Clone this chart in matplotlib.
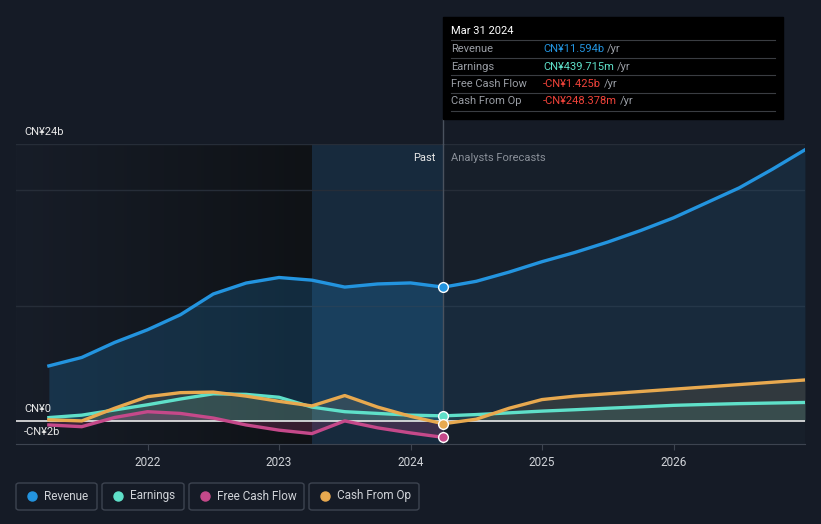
import numpy as np
import matplotlib
matplotlib.use("Agg")
import matplotlib.pyplot as plt
from matplotlib.patches import Rectangle, FancyBboxPatch

plt.rcParams['font.family'] = ['Roboto', 'DejaVu Sans']

# данные (млрд CN¥), годы в десятичном виде
past_x = [2021.25, 2021.5, 2021.75, 2022.0, 2022.25, 2022.5, 2022.75,
          2023.0, 2023.25, 2023.5, 2023.75, 2024.0, 2024.25]
fc_x = [2024.25, 2024.5, 2024.75, 2025.0, 2025.25, 2025.5, 2025.75,
        2026.0, 2026.25, 2026.5, 2026.75, 2027.0]

revenue_past = [4.77, 5.5, 6.8, 7.9, 9.2, 11.0, 11.95, 12.43, 12.2, 11.6, 11.87, 11.96, 11.594]
revenue_fc = [11.594, 12.1, 12.9, 13.8, 14.6, 15.5, 16.5, 17.6, 18.9, 20.2, 21.8, 23.5]

earnings_past = [0.29, 0.5, 0.95, 1.4, 1.9, 2.35, 2.3, 2.05, 1.2, 0.8, 0.65, 0.5, 0.44]
earnings_fc = [0.44, 0.55, 0.7, 0.85, 0.97, 1.1, 1.22, 1.35, 1.43, 1.5, 1.55, 1.6]

fcf_past = [-0.35, -0.5, 0.3, 0.8, 0.65, 0.25, -0.35, -0.8, -1.1, 0.0, -0.6, -1.04, -1.425]

cfo_past = [0.1, 0.0, 1.1, 2.1, 2.45, 2.5, 2.15, 1.7, 1.3, 2.2, 1.2, 0.4, -0.248]
cfo_fc = [-0.248, 0.15, 1.1, 1.85, 2.15, 2.35, 2.55, 2.75, 2.95, 3.15, 3.35, 3.55]

year_ticks = [2022, 2023, 2024, 2025, 2026]

BG = "#151b26"
C_REV = "#2394df"
C_EARN = "#5fe0c9"
C_FCF = "#c5498a"
C_CFO = "#e8a94f"

W, H = 821, 524
fig = plt.figure(figsize=(W / 100, H / 100), dpi=100, facecolor=BG)
ax = fig.add_axes([16 / W, (H - 444) / H, 789 / W, 300 / H])
ax.set_facecolor("#171f2a")
ax.set_xlim(2021.0, 2027.0)
ax.set_ylim(-2, 24)

# тёмная область слева (градиент) и подсвеченная область "Past"
grad = np.linspace(0, 1, 256).reshape(1, -1)
ax.imshow(grad, extent=[2021.0, 2023.25, -2, 24], aspect="auto", zorder=0,
          cmap=matplotlib.colors.LinearSegmentedColormap.from_list("g", ["#171d28", "#0f1216"]))
ax.add_patch(Rectangle((2023.25, -2), 1.0, 26, color="#172a3d", zorder=0.5, lw=0))

for g in [24, 20, 10]:
    ax.axhline(g, color="#262d38", lw=1, zorder=1)
ax.axhline(0, color="#e8e8e8", lw=1.2, zorder=4)

# заливки
rev_x = past_x + fc_x[1:]
rev_y = revenue_past + revenue_fc[1:]
ax.fill_between(past_x, 0, revenue_past, color=C_REV, alpha=0.2, lw=0, zorder=2)
ax.fill_between(fc_x, 0, revenue_fc, color=C_REV, alpha=0.1, lw=0, zorder=2)
earn_y = earnings_past + earnings_fc[1:]
cfo_y = cfo_past + cfo_fc[1:]
ax.fill_between(rev_x, 0, earn_y, color=C_EARN, alpha=0.12, lw=0, zorder=2.1)
ax.fill_between(rev_x, 0, cfo_y, color=C_CFO, alpha=0.12, lw=0, zorder=2.1)
ax.fill_between(past_x, 0, fcf_past, color=C_FCF, alpha=0.22, lw=0, zorder=2.1)

# линии
lw = 2.4
ax.plot(rev_x, rev_y, color=C_REV, lw=lw, zorder=5, solid_joinstyle="round")
ax.plot(rev_x, earn_y, color=C_EARN, lw=lw, zorder=5, solid_joinstyle="round")
ax.plot(rev_x, cfo_y, color=C_CFO, lw=lw, zorder=5, solid_joinstyle="round")
ax.plot(past_x, fcf_past, color=C_FCF, lw=lw, zorder=5, solid_joinstyle="round")

# маркеры на 31 марта 2024
for val, c in [(revenue_past[-1], C_REV), (earnings_past[-1], C_EARN),
               (cfo_past[-1], C_CFO), (fcf_past[-1], C_FCF)]:
    ax.plot([2024.25], [val], "o", ms=7, mfc=c, mec="white", mew=1, zorder=7)

ax.axvline(2024.25, color="#4a525e", lw=1, zorder=3)

for s in ["top", "right", "left"]:
    ax.spines[s].set_visible(False)
ax.spines["bottom"].set_color("#3d4450")
ax.set_yticks([])
ax.set_xticks(year_ticks)
ax.set_xticklabels([str(y) for y in year_ticks])
ax.tick_params(axis="x", colors="#3d4450", labelcolor="#d0d3d8", labelsize=8.5, length=4, pad=5)

ax.text(2024.19, 22.8, "Past", color="#e8e8e8", fontsize=8, ha="right", va="center", zorder=8)
ax.text(2024.31, 22.8, "Analysts Forecasts", color="#8a9099", fontsize=8, ha="left", va="center", zorder=8)

# подписи оси Y
fig.text(24 / W, 1 - 132 / H, "CN¥24b", color="#e8e8e8", fontsize=8, va="center")
fig.text(24 / W, 1 - 409 / H, "CN¥0", color="#e8e8e8", fontsize=8, va="center")
fig.text(24 / W, 1 - 432 / H, "-CN¥2b", color="#e8e8e8", fontsize=8, va="center")

# линия от подсказки
fig.add_artist(plt.Line2D([443 / W, 443 / W], [1 - 119 / H, 1 - 144 / H], color="#4a525e", lw=1))

# подсказка
fig.add_artist(Rectangle((443 / W, 1 - 119 / H), 340 / W, 102 / H, color="#000000", zorder=10))
fig.text(451 / W, 1 - 31 / H, "Mar 31 2024", color="white", fontsize=8, va="center", zorder=11)
rows = [("Revenue", "CN¥11.594b", C_REV), ("Earnings", "CN¥439.715m", C_EARN),
        ("Free Cash Flow", "-CN¥1.425b", "#f0433a"), ("Cash From Op", "-CN¥248.378m", "#f0433a")]
for i, (name, val, c) in enumerate(rows):
    yy = 49 + i * 17.5
    fig.add_artist(plt.Line2D([451 / W, 775 / W], [1 - (yy - 9) / H] * 2, color="#3a3d42", lw=0.8, zorder=11))
    fig.text(451 / W, 1 - yy / H, name, color="#9a9ea5", fontsize=8, va="center", zorder=11)
    t = fig.text(543 / W, 1 - yy / H, val, color=c, fontsize=8, va="center", zorder=11)
    fig.canvas.draw()
    bb = t.get_window_extent()
    fig.text((bb.x1 + 3) / W, 1 - yy / H, "/yr", color="#9a9ea5", fontsize=8, va="center", zorder=11)
fig.add_artist(plt.Line2D([451 / W, 775 / W], [1 - 111 / H] * 2, color="#3a3d42", lw=0.8, zorder=11))

# легенда
legend = [("Revenue", C_REV, 16, 81), ("Earnings", C_EARN, 102, 82),
          ("Free Cash Flow", C_FCF, 189, 115), ("Cash From Op", C_CFO, 309, 110)]
for name, c, x0, w in legend:
    fig.add_artist(FancyBboxPatch((x0 / W, 1 - 510 / H), w / W, 27 / H,
                                  boxstyle="round,pad=0,rounding_size=0.004",
                                  fc="none", ec="#3d4450", lw=1))
    fig.add_artist(plt.Line2D([(x0 + 16) / W], [1 - 496 / H], marker="o", ms=6.5, color=c, mec=c))
    fig.text((x0 + 28) / W, 1 - 496 / H, name, color="#d0d3d8", fontsize=8.5, va="center")

fig.savefig("out.png", dpi=100, facecolor=BG)
